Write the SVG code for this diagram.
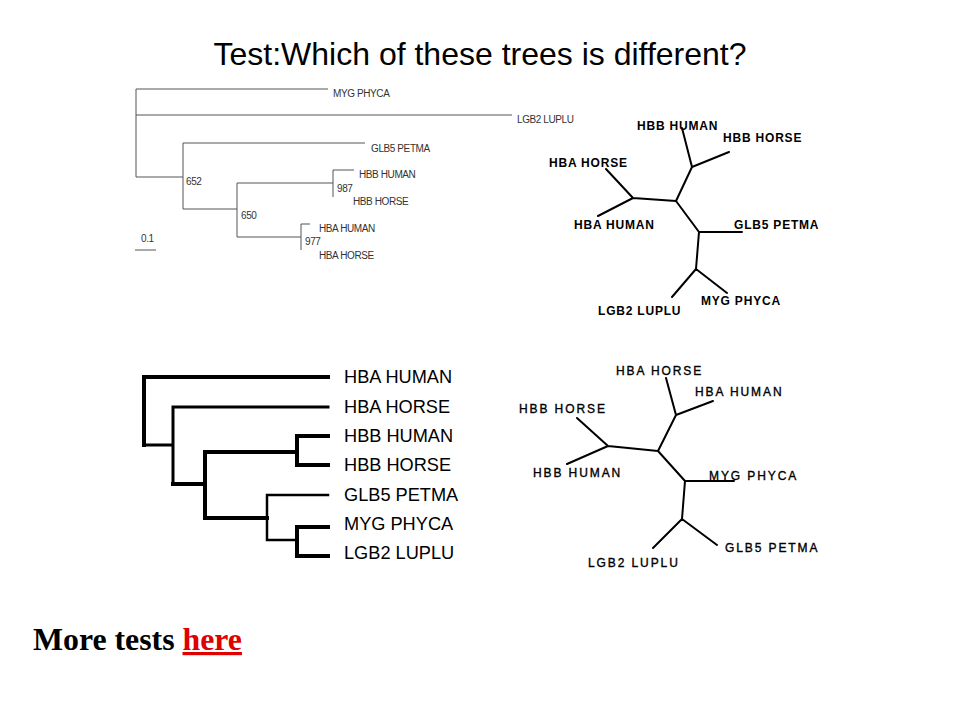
<svg xmlns="http://www.w3.org/2000/svg" width="960" height="720" viewBox="0 0 960 720">
<style>
.t1{font-family:"Liberation Sans",Arial,sans-serif;font-size:10px;fill:#333;letter-spacing:-0.4px}
.l1{stroke:#555;stroke-width:1;fill:none}
.t2{font-family:"Liberation Sans",Arial,sans-serif;font-size:12px;font-weight:bold;fill:#000;letter-spacing:0.8px}
.l2{stroke:#000;stroke-width:2;fill:none;stroke-linecap:round}
.t3{font-family:"Liberation Sans",Arial,sans-serif;font-size:18.2px;fill:#000}
.l3{stroke:#000;fill:none;stroke-linecap:square}
.t4{font-family:"Liberation Sans",Arial,sans-serif;font-size:12px;fill:#000;stroke:#000;stroke-width:0.35;letter-spacing:1.9px}
.l4{stroke:#000;stroke-width:2;fill:none;stroke-linecap:round}
</style>
<rect width="960" height="720" fill="#fff"/>
<text x="480" y="65" text-anchor="middle" font-family="Liberation Sans, Arial, sans-serif" font-size="32" fill="#000">Test:Which of these trees is different?</text>

<!-- Tree 1: rooted phylogram -->
<g id="tree1">
<g id="tree1-connectors">
<path class="l1" d="M136,89V177M136,89H328M136,115H512M136,177H183M183,143V209M183,143H365M183,209H237M237,183V237M237,183H333M333,170V197M333,170H354M237,237H301M301,224V250M301,224H310M135,250H156"/>
</g>
<g id="t1-myg"><text class="t1" x="333" y="97">MYG PHYCA</text></g>
<g id="t1-lgb2"><text class="t1" x="517" y="123">LGB2 LUPLU</text></g>
<g id="t1-glb5"><text class="t1" x="371" y="152">GLB5 PETMA</text></g>
<g id="t1-hbbhu"><text class="t1" x="359" y="178">HBB HUMAN</text></g>
<g id="t1-hbbho"><text class="t1" x="353" y="205">HBB HORSE</text></g>
<g id="t1-hbahu"><text class="t1" x="319" y="232">HBA HUMAN</text></g>
<g id="t1-hbaho"><text class="t1" x="319" y="259">HBA HORSE</text></g>
<g id="t1-b652"><text class="t1" x="186" y="185">652</text></g>
<g id="t1-b987"><text class="t1" x="337" y="192">987</text></g>
<g id="t1-b650"><text class="t1" x="241" y="219">650</text></g>
<g id="t1-b977"><text class="t1" x="305" y="245">977</text></g>
<g id="t1-scale"><text class="t1" x="141" y="242">0.1</text></g>
</g>

<!-- Tree 2: unrooted -->
<g id="tree2">
<g id="tree2-connectors">
<path class="l2" d="M676,201L633,198M633,198L606,169M633,198L598,216M676,201L692,167M692,167L682,128M692,167L729,152M676,201L699,232M699,232L742,232M699,232L696,269M696,269L672,297M696,269L727,293"/>
</g>
<g id="t2-hbbhu"><text class="t2" x="637" y="130">HBB HUMAN</text></g>
<g id="t2-hbbho"><text class="t2" x="723" y="142">HBB HORSE</text></g>
<g id="t2-hbaho"><text class="t2" x="549" y="167">HBA HORSE</text></g>
<g id="t2-hbahu"><text class="t2" x="574" y="229">HBA HUMAN</text></g>
<g id="t2-glb5"><text class="t2" x="734" y="229">GLB5 PETMA</text></g>
<g id="t2-myg"><text class="t2" x="701" y="305">MYG PHYCA</text></g>
<g id="t2-lgb2"><text class="t2" x="598" y="315">LGB2 LUPLU</text></g>
</g>

<!-- Tree 3: rooted cladogram -->
<g id="tree3">
<g id="tree3-connectors">
<path class="l3" stroke-width="4" d="M144,377V445M144,377H328"/>
<path class="l3" stroke-width="3" d="M144,445H173M173,407V484M173,407H328"/>
<path class="l3" stroke-width="4" d="M173,484H205M205,452V518M205,452H297M297,436V465M297,436H328M297,465H328M205,518H267"/>
<path class="l3" stroke-width="2.5" d="M267,495V540M267,495H328M267,540H297"/>
<path class="l3" stroke-width="4" d="M297,527V556M297,527H328M297,556H328"/>
</g>
<g id="t3-hbahu"><text class="t3" x="344" y="383">HBA HUMAN</text></g>
<g id="t3-hbaho"><text class="t3" x="344" y="413">HBA HORSE</text></g>
<g id="t3-hbbhu"><text class="t3" x="344" y="442">HBB HUMAN</text></g>
<g id="t3-hbbho"><text class="t3" x="344" y="471">HBB HORSE</text></g>
<g id="t3-glb5"><text class="t3" x="344" y="501">GLB5 PETMA</text></g>
<g id="t3-myg"><text class="t3" x="344" y="530">MYG PHYCA</text></g>
<g id="t3-lgb2"><text class="t3" x="344" y="559">LGB2 LUPLU</text></g>
</g>

<!-- Tree 4: unrooted -->
<g id="tree4">
<g id="tree4-connectors">
<path class="l4" d="M658,451L608,446M608,446L577,418M608,446L567,464M658,451L676,415M676,415L666,378M676,415L713,401M658,451L685,481M685,481L734,481M685,481L682,519M682,519L653,548M682,519L717,545"/>
</g>
<g id="t4-hbaho"><text class="t4" x="616" y="375">HBA HORSE</text></g>
<g id="t4-hbahu"><text class="t4" x="695" y="396">HBA HUMAN</text></g>
<g id="t4-hbbho"><text class="t4" x="519" y="413">HBB HORSE</text></g>
<g id="t4-hbbhu"><text class="t4" x="533" y="477">HBB HUMAN</text></g>
<g id="t4-myg"><text class="t4" x="709" y="480">MYG PHYCA</text></g>
<g id="t4-glb5"><text class="t4" x="725" y="552">GLB5 PETMA</text></g>
<g id="t4-lgb2"><text class="t4" x="588" y="567">LGB2 LUPLU</text></g>
</g>

<g id="more">
<text x="33" y="650" font-family="Liberation Serif, 'Times New Roman', serif" font-size="31.8" font-weight="bold" fill="#000">More tests <tspan fill="#e00000" text-decoration="underline">here</tspan></text>
</g>
</svg>
